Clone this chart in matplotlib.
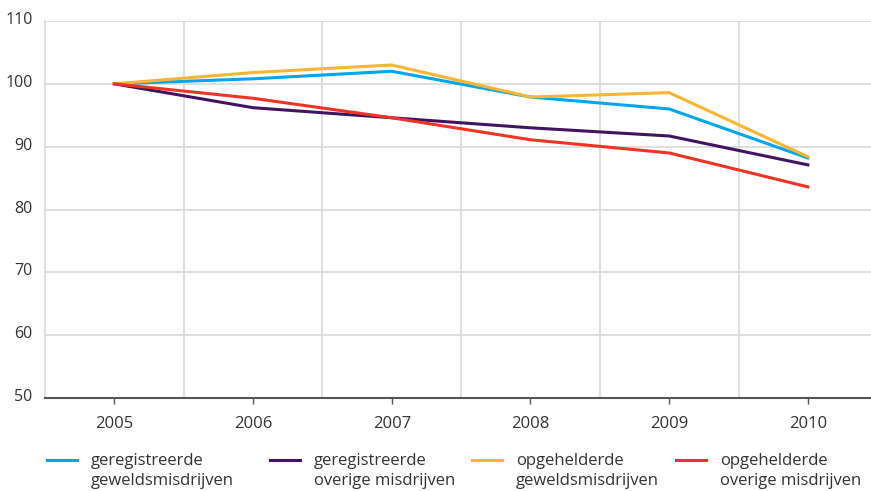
import numpy as np
import matplotlib
matplotlib.use('Agg')
from matplotlib import pyplot as plt
from matplotlib.lines import Line2D
import matplotlib.transforms as mtrans

plt.rcParams['font.family'] = ['Open Sans', 'DejaVu Sans']

years = [2005, 2006, 2007, 2008, 2009, 2010]
geweld_geregistreerd = [100, 100.8, 102.0, 97.9, 96.0, 88.2]
overig_geregistreerd = [100, 96.2, 94.6, 93.0, 91.7, 87.1]
geweld_opgehelderd = [100, 101.8, 103.0, 97.9, 98.6, 88.4]
overig_opgehelderd = [100, 97.7, 94.6, 91.1, 89.0, 83.6]

labels = ['geregistreerde\ngeweldsmisdrijven', 'geregistreerde\noverige misdrijven',
          'opgehelderde\ngeweldsmisdrijven', 'opgehelderde\noverige misdrijven']
colors = ['#00a6eb', '#42145f', '#f9b533', '#ef3324']
series = [geweld_geregistreerd, overig_geregistreerd, geweld_opgehelderd, overig_opgehelderd]

W, H = 871, 491
fig = plt.figure(figsize=(W/100, H/100), dpi=100)
ax = fig.add_axes([45/W, 1-398/H, 1-45/W, (398-21)/H])

for s, c in zip(series, colors):
    ax.plot(years, s, color=c, lw=2.2)

ax.set_ylim(50, 110)
ax.set_yticks(range(50, 111, 10))
ax.set_xlim(2004.5, 2004.5 + (W-45)/138.7)
ax.set_xticks(years)
ax.set_xticks(np.arange(2005.5, 2010, 1), minor=True)

ax.grid(axis='y', color='#d9d9d9', lw=1.2)
ax.grid(axis='x', which='minor', color='#d9d9d9', lw=1.2)
ax.set_axisbelow(True)

for sp in ['top', 'right']:
    ax.spines[sp].set_visible(False)
ax.spines['left'].set_color('#d9d9d9')
ax.spines['left'].set_linewidth(1.2)
ax.spines['bottom'].set_color('#555555')
ax.spines['bottom'].set_linewidth(1.5)

ax.tick_params(axis='y', length=0, labelsize=11.5, colors='#333333', pad=9)
ax.tick_params(axis='x', which='major', length=4.5, width=1, color='#555555',
               labelsize=12, labelcolor='#333333', pad=8.5)
ax.tick_params(axis='x', which='minor', length=0)
up = mtrans.ScaledTranslation(0, 3/100, fig.dpi_scale_trans)
for t in ax.get_yticklabels():
    t.set_transform(t.get_transform() + up)

# legend, handle on the first text line
leg_x = [47, 270, 472, 676]
for x0, c, l in zip(leg_x, colors, labels):
    fig.add_artist(Line2D([x0/W, (x0+30)/W], [1-460/H, 1-460/H], color=c, lw=2.2))
    fig.text((x0+44)/W, 1-453/H, l, fontsize=12, color='#333333',
             va='top', ha='left', linespacing=1.3)

fig.savefig('out.png', dpi=100)
